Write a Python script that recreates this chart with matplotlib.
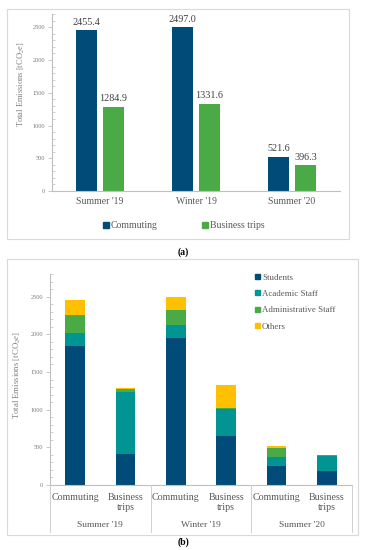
import matplotlib
matplotlib.use("Agg")
import matplotlib.pyplot as plt
import numpy as np
from matplotlib.patches import Rectangle, Patch
from matplotlib.lines import Line2D
import matplotlib.transforms as mtransforms
from matplotlib.ticker import MultipleLocator

plt.rcParams['font.family'] = ['Liberation Serif', 'DejaVu Serif']
plt.rcParams['mathtext.fontset'] = 'custom'
plt.rcParams['mathtext.rm'] = 'Liberation Serif'
plt.rcParams['mathtext.it'] = 'Liberation Serif:italic'

# ---- data ----
seasons = ["Summer '19", "Winter '19", "Summer '20"]
commuting = [2455.4, 2497.0, 521.6]
business = [1284.9, 1331.6, 396.3]
series_a = ["Commuting", "Business trips"]

bar_labels_b = ["Commuting", "Business\ntrips", "Commuting", "Business\ntrips", "Commuting", "Business\ntrips"]
groups_b = ["Students", "Academic Staff", "Administrative Staff", "Others"]
students = [1845, 411, 1947, 650, 252, 181]
academic = [168, 819, 177, 354, 124, 204]
administrative = [244, 45, 203, 14, 120, 8]
others = [198, 10, 170, 314, 26, 3]

C_NAVY = '#004b78'
C_GREEN = '#4aab46'
C_TEAL = '#009593'
C_YELLOW = '#ffc000'
GRAY_TXT = '#7f7f7f'
AX_GRAY = '#bfbfbf'

W, H = 366, 550
fig = plt.figure(figsize=(W/100, H/100), dpi=100)

def fx(px):
    return px / W

def fy(py):
    return 1 - py / H

# panel boxes
fig.patches.append(Rectangle((fx(7.5), fy(238.5)), fx(348.5) - fx(7.5), fy(8.5) - fy(238.5),
                             transform=fig.transFigure, fill=False, ec='#d9d9d9', lw=0.8))
fig.patches.append(Rectangle((fx(7.5), fy(534.5)), fx(357.5) - fx(7.5), fy(258.5) - fy(534.5),
                             transform=fig.transFigure, fill=False, ec='#d9d9d9', lw=0.8))

def style_axes(ax):
    for s in ['top', 'right']:
        ax.spines[s].set_visible(False)
    for s in ['left', 'bottom']:
        ax.spines[s].set_color(AX_GRAY)
        ax.spines[s].set_linewidth(0.8)
    ax.yaxis.set_major_locator(MultipleLocator(500))
    ax.yaxis.set_minor_locator(MultipleLocator(100))
    ax.tick_params(axis='y', which='major', direction='out', length=3, width=0.6,
                   color=AX_GRAY, labelsize=4.6, labelcolor=GRAY_TXT, pad=2)
    ax.tick_params(axis='y', which='minor', direction='in', length=2, width=0.5, color=AX_GRAY)
    ax.set_facecolor('none')

# ---- panel (a) ----
axa = fig.add_axes([fx(52), fy(191), fx(340) - fx(52), fy(13.5) - fy(191)])
style_axes(axa)
x = np.arange(len(seasons))
bw = 0.22
off = 0.141
ba = axa.bar(x - off, commuting, bw, color=C_NAVY, label=series_a[0])
bb = axa.bar(x + off, business, bw, color=C_GREEN, label=series_a[1])
for bars in (ba, bb):
    for r in bars:
        axa.annotate(f"{r.get_height():.1f}", (r.get_x() + r.get_width()/2, r.get_height()),
                     xytext=(0, 2.5), textcoords='offset points', ha='center', va='bottom',
                     fontsize=7.3, color='#404040')
axa.set_xlim(-0.5, 2.5)
axa.set_ylim(0, 2710)
axa.set_xticks(x)
axa.set_xticklabels(seasons)
axa.tick_params(axis='x', length=0, labelsize=7, labelcolor='#595959', pad=4)
fig.text(fx(21.5), fy(84), r'Total Emissions [tCO$_{\mathregular{2}}$e]', rotation=90,
         ha='center', va='center', fontsize=6.1, color=GRAY_TXT)
fig.legend(handles=[Patch(color=C_NAVY), Patch(color=C_GREEN)], labels=series_a,
           loc='center', bbox_to_anchor=(fx(184), fy(226)), ncol=2, frameon=False,
           fontsize=7, handlelength=0.55, handleheight=0.55, handletextpad=0.25,
           columnspacing=4.6, labelcolor='#595959')
fig.text(fx(183), fy(252), '(a)', ha='center', va='center', fontsize=7, fontweight='bold')

# ---- panel (b) ----
axb = fig.add_axes([fx(50), fy(485), fx(352) - fx(50), fy(274) - fy(485)])
style_axes(axb)
xb = np.arange(len(bar_labels_b))
wb = 0.385
bottom = np.zeros(len(xb))
for vals, col, lab in zip([students, academic, administrative, others],
                          [C_NAVY, C_TEAL, C_GREEN, C_YELLOW], groups_b):
    axb.bar(xb, vals, wb, bottom=bottom, color=col, label=lab)
    bottom += np.array(vals)
axb.set_xlim(-0.5, 5.5)
axb.set_ylim(0, 2800)
axb.set_xticks([])
fig.text(fx(17), fy(375), r'Total Emissions [tCO$_{\mathregular{2}}$$\it{e}$]', rotation=90,
         ha='center', va='center', fontsize=6.3, color=GRAY_TXT)

trans = mtransforms.blended_transform_factory(axb.transData, fig.transFigure)
for xi, lab in zip(xb, bar_labels_b):
    fig.text(xi, fy(492.5), lab, transform=trans, ha='center', va='top', fontsize=7.2,
             color='#595959', linespacing=1.2)
for gi, g in enumerate(seasons):
    fig.text(2*gi + 0.5, fy(525), g, transform=trans, ha='center', va='center',
             fontsize=6.8, color='#595959')
for sx in [-0.5, 1.5, 3.5, 5.5]:
    fig.add_artist(Line2D([sx, sx], [fy(485), fy(532)], transform=trans, color='#d0d0d0', lw=0.7))

axb.legend(handles=[Patch(color=c) for c in [C_NAVY, C_TEAL, C_GREEN, C_YELLOW]], labels=groups_b,
           loc='upper left', bbox_to_anchor=(fx(255), fy(273.5)), bbox_transform=fig.transFigure,
           frameon=False, fontsize=6.4, handlelength=0.55, handleheight=0.55, handletextpad=0.25,
           labelspacing=0.95, labelcolor='#595959', borderaxespad=0, borderpad=0)
fig.text(fx(183), fy(542), '(b)', ha='center', va='center', fontsize=7, fontweight='bold')

fig.savefig('out.png', dpi=100, facecolor='white')
